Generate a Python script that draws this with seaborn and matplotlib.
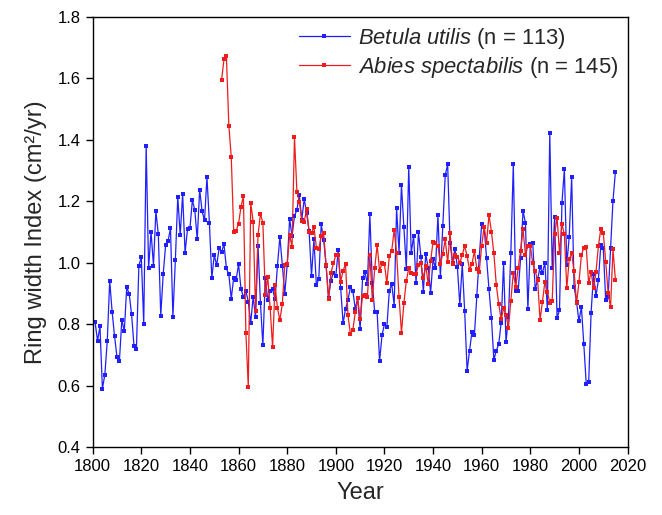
import numpy as np
import pandas as pd
import matplotlib
matplotlib.use("Agg")
import matplotlib.pyplot as plt
from matplotlib.lines import Line2D
import seaborn as sns

# Betula utilis ring width index, 1801-2015
betula_years = list(range(1801, 2016))
betula_values = [
    0.806, 0.746, 0.793, 0.590, 0.636, 0.746, 0.942, 0.840, 0.761, 0.693,  # 1801-1810
    0.682, 0.815, 0.777, 0.920, 0.900, 0.832, 0.729, 0.721, 0.991, 1.018,  # 1811-1820
    0.801, 1.381, 0.982, 1.101, 0.991, 1.168, 1.092, 0.828, 0.962, 1.057,  # 1821-1830
    1.071, 1.112, 0.825, 1.008, 1.214, 1.089, 1.224, 1.033, 1.109, 1.112,  # 1831-1840
    1.203, 1.172, 1.076, 1.238, 1.167, 1.138, 1.279, 1.130, 0.951, 1.025,  # 1841-1850
    0.992, 1.048, 1.034, 1.061, 0.982, 0.962, 0.883, 0.952, 0.944, 0.996,  # 1851-1860
    0.915, 0.888, 0.909, 0.873, 0.804, 0.890, 0.823, 1.056, 0.870, 0.732,  # 1861-1870
    0.951, 0.879, 0.909, 0.914, 0.881, 0.991, 1.085, 0.991, 0.899, 0.993,  # 1871-1880
    1.142, 1.087, 1.152, 1.172, 1.220, 1.139, 1.208, 1.161, 1.104, 0.957,  # 1881-1890
    1.076, 0.928, 0.947, 1.125, 1.074, 0.991, 0.886, 0.942, 0.968, 0.957,  # 1891-1900
    1.042, 0.917, 0.803, 0.850, 0.879, 0.920, 0.909, 0.850, 0.884, 0.784,  # 1901-1910
    0.949, 0.969, 0.931, 1.158, 0.935, 0.839, 0.839, 0.680, 0.764, 0.801,  # 1911-1920
    0.790, 0.908, 0.931, 0.861, 1.177, 1.033, 1.252, 1.115, 0.980, 1.312,  # 1921-1930
    1.031, 1.087, 0.935, 1.099, 1.020, 0.906, 1.029, 0.982, 0.903, 1.012,  # 1931-1940
    0.982, 1.155, 0.953, 1.120, 1.285, 1.320, 1.063, 1.000, 1.045, 0.987,  # 1941-1950
    0.863, 0.996, 0.843, 0.649, 0.714, 0.776, 0.765, 0.892, 1.020, 1.126,  # 1951-1960
    1.117, 1.014, 0.914, 0.822, 0.684, 0.714, 0.735, 0.805, 0.998, 0.741,  # 1961-1970
    0.825, 1.033, 1.320, 0.908, 0.908, 1.014, 1.168, 1.130, 0.849, 1.060,  # 1971-1980
    1.063, 0.914, 0.946, 0.985, 0.968, 1.000, 0.847, 1.421, 0.982, 1.150,  # 1981-1990
    0.819, 0.847, 1.193, 1.304, 0.993, 1.085, 1.278, 0.922, 0.874, 0.809,  # 1991-2000
    0.857, 0.735, 0.606, 0.612, 0.838, 0.963, 0.892, 0.944, 1.058, 1.047,  # 2001-2010
    0.879, 0.890, 1.047, 1.202, 1.296,                                      # 2011-2015
]

# Abies spectabilis ring width index, 1853-2015
abies_years = list(range(1853, 2016))
abies_values = [
    1.594, 1.661, 1.672, 1.446, 1.343, 1.101, 1.104, 1.127,                # 1853-1860
    1.182, 1.217, 0.773, 0.597, 1.195, 1.134, 0.844, 1.090, 1.159, 1.130,  # 1861-1870
    0.895, 0.953, 0.852, 0.725, 0.928, 0.852, 0.814, 0.866, 0.993, 0.996,  # 1871-1880
    1.090, 1.052, 1.408, 1.231, 1.199, 1.137, 1.134, 1.174, 1.101, 1.096,  # 1881-1890
    1.117, 1.049, 1.045, 1.087, 1.096, 0.993, 0.881, 0.966, 0.998, 1.025,  # 1891-1900
    1.025, 0.939, 0.974, 0.996, 0.830, 0.768, 0.781, 0.839, 0.884, 0.817,  # 1901-1910
    0.893, 0.895, 0.890, 1.025, 0.879, 0.982, 1.058, 0.974, 0.998, 0.996,  # 1911-1920
    0.933, 1.022, 1.039, 1.107, 1.031, 0.890, 0.773, 0.868, 0.942, 0.982,  # 1921-1930
    0.968, 0.964, 0.964, 0.993, 0.998, 0.949, 0.991, 0.931, 1.007, 1.069,  # 1931-1940
    1.063, 1.056, 0.996, 1.029, 1.076, 1.001, 1.096, 0.996, 1.025, 1.020,  # 1941-1950
    1.000, 1.025, 1.055, 1.022, 0.977, 0.996, 1.038, 0.979, 0.971, 1.056,  # 1951-1960
    1.117, 1.065, 1.155, 1.101, 1.031, 0.928, 0.866, 0.816, 0.852, 0.830,  # 1961-1970
    0.787, 0.877, 0.968, 0.922, 0.982, 1.039, 1.110, 1.025, 1.055, 1.056,  # 1971-1980
    0.998, 0.973, 0.944, 0.814, 0.874, 0.939, 0.906, 0.870, 0.877, 1.094,  # 1981-1990
    1.147, 1.033, 1.126, 1.093, 0.917, 1.011, 1.031, 0.973, 0.868, 0.936,  # 1991-2000
    1.025, 1.049, 1.050, 0.933, 0.971, 0.917, 0.969, 1.055, 1.110, 1.098,  # 2001-2010
    1.004, 0.903, 0.855, 1.044, 0.944,                                      # 2011-2015
]

betula_label = r"$\mathit{Betula\ utilis}$ (n = 113)"
abies_label = r"$\mathit{Abies\ spectabilis}$ (n = 145)"
x_ticks = list(range(1800, 2021, 20))
y_ticks = [0.4, 0.6, 0.8, 1.0, 1.2, 1.4, 1.6, 1.8]

BLUE = "#1f1fff"
RED = "#ee1c1c"

sns.set_style("ticks")
plt.rcParams["font.family"] = ["Liberation Sans", "DejaVu Sans"]
plt.rcParams["mathtext.fontset"] = "custom"
plt.rcParams["mathtext.rm"] = "Liberation Sans"
plt.rcParams["mathtext.it"] = "Liberation Sans:italic"

df_b = pd.DataFrame({"Year": betula_years, "RWI": betula_values})
df_a = pd.DataFrame({"Year": abies_years, "RWI": abies_values})

fig = plt.figure(figsize=(6.62, 5.15), dpi=100)
ax = fig.add_axes([0.140, 0.1315, 0.808, 0.836])

sns.lineplot(data=df_b, x="Year", y="RWI", ax=ax, color=BLUE, linewidth=0.9,
             marker="s", markersize=2.6, markeredgewidth=0, legend=False)
sns.lineplot(data=df_a, x="Year", y="RWI", ax=ax, color=RED, linewidth=0.9,
             marker="s", markersize=2.6, markeredgewidth=0, legend=False)

ax.set_xlim(1800, 2020)
ax.set_ylim(0.4, 1.8)
ax.set_xticks(x_ticks)
ax.set_yticks(y_ticks)
ax.set_yticklabels([f"{v:.1f}" for v in y_ticks])
ax.tick_params(axis="both", labelsize=12, direction="out", length=5, width=1, colors="black")
for s in ax.spines.values():
    s.set_visible(True)
    s.set_linewidth(1.0)
    s.set_color("black")

ax.set_xlabel("Year", fontsize=17, labelpad=6)
ax.set_ylabel("Ring width Index (cm²/yr)", fontsize=17, labelpad=8)

handles = [
    Line2D([], [], color=BLUE, linewidth=0.9, marker="s", markersize=2.6, markeredgewidth=0),
    Line2D([], [], color=RED, linewidth=0.9, marker="s", markersize=2.6, markeredgewidth=0),
]
leg = ax.legend(handles, [betula_label, abies_label], loc="upper right", frameon=False,
                fontsize=15.8, handlelength=2.3, handletextpad=0.4, numpoints=1,
                borderaxespad=0.1, labelspacing=0.2, borderpad=0.3)

fig.savefig("out.png", dpi=100)
